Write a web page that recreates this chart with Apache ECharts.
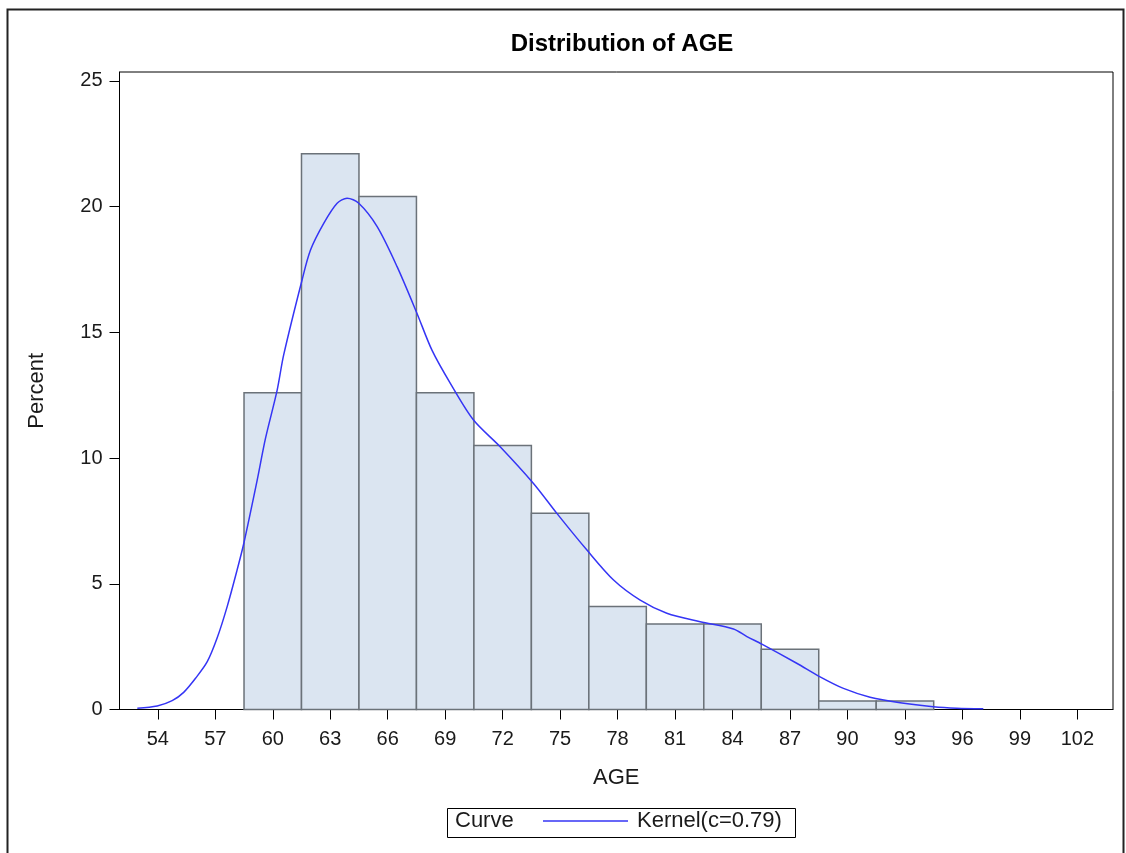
<!DOCTYPE html>
<html>
<head>
<meta charset="utf-8">
<title>Distribution of AGE</title>
<script src="https://cdn.jsdelivr.net/npm/echarts@6/dist/echarts.min.js"></script>
<style>
  html, body { margin: 0; padding: 0; background: #fff; }
  #chart { width: 1126px; height: 853px; }
</style>
</head>
<body>
<div id="chart"></div>
<script>
// Histogram bins: midpoints (years) and share of patients in each bin (%)
const binMidpoints = [60, 63, 66, 69, 72, 75, 78, 81, 84, 87, 90, 93];
const binPercent   = [12.6, 22.1, 20.4, 12.6, 10.5, 7.8, 4.1, 3.4, 3.4, 2.4, 0.34, 0.34];
const binWidth = 3;

// Kernel density estimate, scaled to percent
const kernelAge = [52.93, 53.97, 54.75, 55.35, 55.97, 56.58, 57.10, 57.62, 58.14, 58.49,
                   59.19, 59.62, 60.23, 60.57, 61.53, 61.97, 62.66, 63.36, 63.88, 64.49,
                   65.45, 66.49, 67.53, 68.31, 69.27, 70.48, 71.87, 73.61, 74.83, 76.40,
                   77.79, 79.18, 80.57, 82.31, 84.05, 84.75, 85.53, 87.35, 88.57, 89.79,
                   91.18, 92.75, 94.48, 95.70, 97.09];
const kernelPct = [0.05, 0.14, 0.35, 0.68, 1.24, 1.90, 2.85, 4.09, 5.55, 6.61,
                   9.13, 10.78, 12.70, 14.10, 17.08, 18.27, 19.33, 20.13, 20.33, 20.13,
                   19.20, 17.61, 15.75, 14.29, 12.97, 11.51, 10.45, 8.99, 7.80, 6.34,
                   5.15, 4.35, 3.83, 3.49, 3.20, 2.90, 2.60, 1.84, 1.30, 0.84,
                   0.49, 0.27, 0.11, 0.05, 0.03];

// Axis ticks
const xTicks = [54, 57, 60, 63, 66, 69, 72, 75, 78, 81, 84, 87, 90, 93, 96, 99, 102];
const yTicks = [0, 5, 10, 15, 20, 25];

const curveName = 'Kernel(c=0.79)';
const FONT = '"Liberation Sans", Arial, sans-serif';
const TEXT = '#1a1a1a';

const chart = echarts.init(document.getElementById('chart'), null, { renderer: 'canvas' });

const histData = binMidpoints.map((m, i) => [m, binPercent[i]]);
const kernelData = kernelAge.map((a, i) => [a, kernelPct[i]]);

chart.setOption({
  animation: false,
  backgroundColor: '#ffffff',
  title: {
    text: 'Distribution of AGE',
    left: 617, top: 27, textAlign: 'center',
    textStyle: { fontFamily: FONT, fontSize: 24, fontWeight: 'bold', color: '#000' }
  },
  grid: {
    left: 119.5, right: 13, top: 72, bottom: 143.5,
    show: true, borderColor: '#000', borderWidth: 1, backgroundColor: 'transparent'
  },
  legend: {
    data: [curveName],
    left: 543, top: 810,
    padding: 0,
    icon: 'rect',
    itemWidth: 85, itemHeight: 1.5,
    textStyle: { fontFamily: FONT, fontSize: 22, color: TEXT, padding: [0, 0, 0, 4] },
    selectedMode: false
  },
  xAxis: {
    type: 'value',
    min: 52, max: 103.86,
    name: 'AGE', nameLocation: 'middle', nameGap: 57,
    nameTextStyle: { fontFamily: FONT, fontSize: 22, color: TEXT },
    axisLine: { show: true, lineStyle: { color: '#000', width: 1 } },
    axisTick: { show: true, length: 10, lineStyle: { color: '#000', width: 1 }, customValues: xTicks },
    axisLabel: { customValues: xTicks, margin: 20, fontFamily: FONT, fontSize: 20, color: TEXT },
    splitLine: { show: false }
  },
  yAxis: {
    type: 'value',
    min: 0, max: 25.35,
    name: 'Percent', nameLocation: 'middle', nameGap: 72, nameRotate: 90,
    nameTextStyle: { fontFamily: FONT, fontSize: 22, color: TEXT },
    axisLine: { show: true, lineStyle: { color: '#000', width: 1 } },
    axisTick: { show: true, length: 10, lineStyle: { color: '#000', width: 1 }, customValues: yTicks },
    axisLabel: { customValues: yTicks, margin: 17, fontFamily: FONT, fontSize: 20, color: TEXT },
    splitLine: { show: false }
  },
  graphic: [
    // outer frame around the whole figure
    { type: 'rect', left: 5, top: 7, z: 100, silent: true,
      shape: { width: 1116, height: 900 },
      style: { fill: 'none', stroke: '#222', lineWidth: 2 } },
    // legend box with its "Curve" heading
    { type: 'rect', left: 445, top: 806, z: 100, silent: true,
      shape: { width: 348, height: 29 },
      style: { fill: 'none', stroke: '#000', lineWidth: 1 } },
    { type: 'text', left: 455, top: 810, z: 100, silent: true,
      style: { text: 'Curve', fontFamily: FONT, fontSize: 22, fill: TEXT } }
  ],
  series: [
    {
      name: 'Histogram',
      type: 'custom',
      data: histData,
      z: 2,
      renderItem: function (params, api) {
        const mid = api.value(0);
        const pct = api.value(1);
        const topLeft = api.coord([mid - binWidth / 2, pct]);
        const botRight = api.coord([mid + binWidth / 2, 0]);
        return {
          type: 'rect',
          shape: {
            x: topLeft[0], y: topLeft[1],
            width: botRight[0] - topLeft[0],
            height: botRight[1] - topLeft[1]
          },
          style: { fill: '#dbe5f1', stroke: '#6b7279', lineWidth: 1.5 }
        };
      }
    },
    {
      name: curveName,
      type: 'line',
      data: kernelData,
      z: 3,
      smooth: 0.3,
      showSymbol: false,
      color: '#3535f5',
      lineStyle: { color: '#3535f5', width: 1.5 }
    }
  ]
});
</script>
</body>
</html>
